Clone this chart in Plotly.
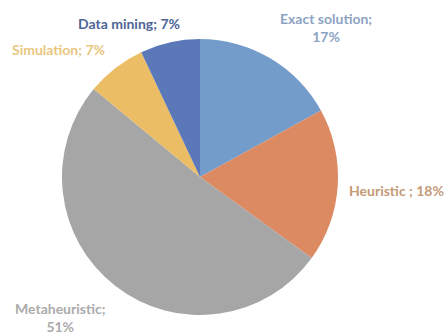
import plotly.graph_objects as go

labels = ["Exact solution", "Heuristic ", "Metaheuristic", "Simulation", "Data mining"]
values = [17, 18, 51, 7, 7]
slice_colors = ["#739CCB", "#DB8A62", "#A6A6A6", "#EBBE66", "#5B78B8"]
label_texts = ["Exact solution;<br>17%", "Heuristic ; 18%", "Metaheuristic;<br>51%",
               "Simulation; 7%", "Data mining; 7%"]
label_colors = ["#8DA3C3", "#C49A78", "#ABABAB", "#E9C77F", "#4E6596"]
label_pos = [(326, 28), (396, 190), (60, 317), (58, 50), (129, 23)]

W, H = 444, 335
cx, cy, r = 200, 177, 138

fig = go.Figure(go.Pie(
    labels=labels, values=values, sort=False, direction="clockwise", rotation=0,
    marker=dict(colors=slice_colors, line=dict(width=0)),
    textinfo="none", hoverinfo="label+percent", showlegend=False,
    domain=dict(x=[(cx - r) / W, (cx + r) / W], y=[(H - cy - r) / H, (H - cy + r) / H]),
))

for t, c, (x, y) in zip(label_texts, label_colors, label_pos):
    fig.add_annotation(text="<b>" + t + "</b>", x=x / W, y=1 - y / H, xref="paper", yref="paper",
                       showarrow=False, font=dict(family="Lato", size=14, color=c),
                       xanchor="center", yanchor="middle", align="center")

fig.update_layout(width=W, height=H, margin=dict(l=0, r=0, t=0, b=0),
                  paper_bgcolor="white", plot_bgcolor="white")
fig.write_html("out.html")
